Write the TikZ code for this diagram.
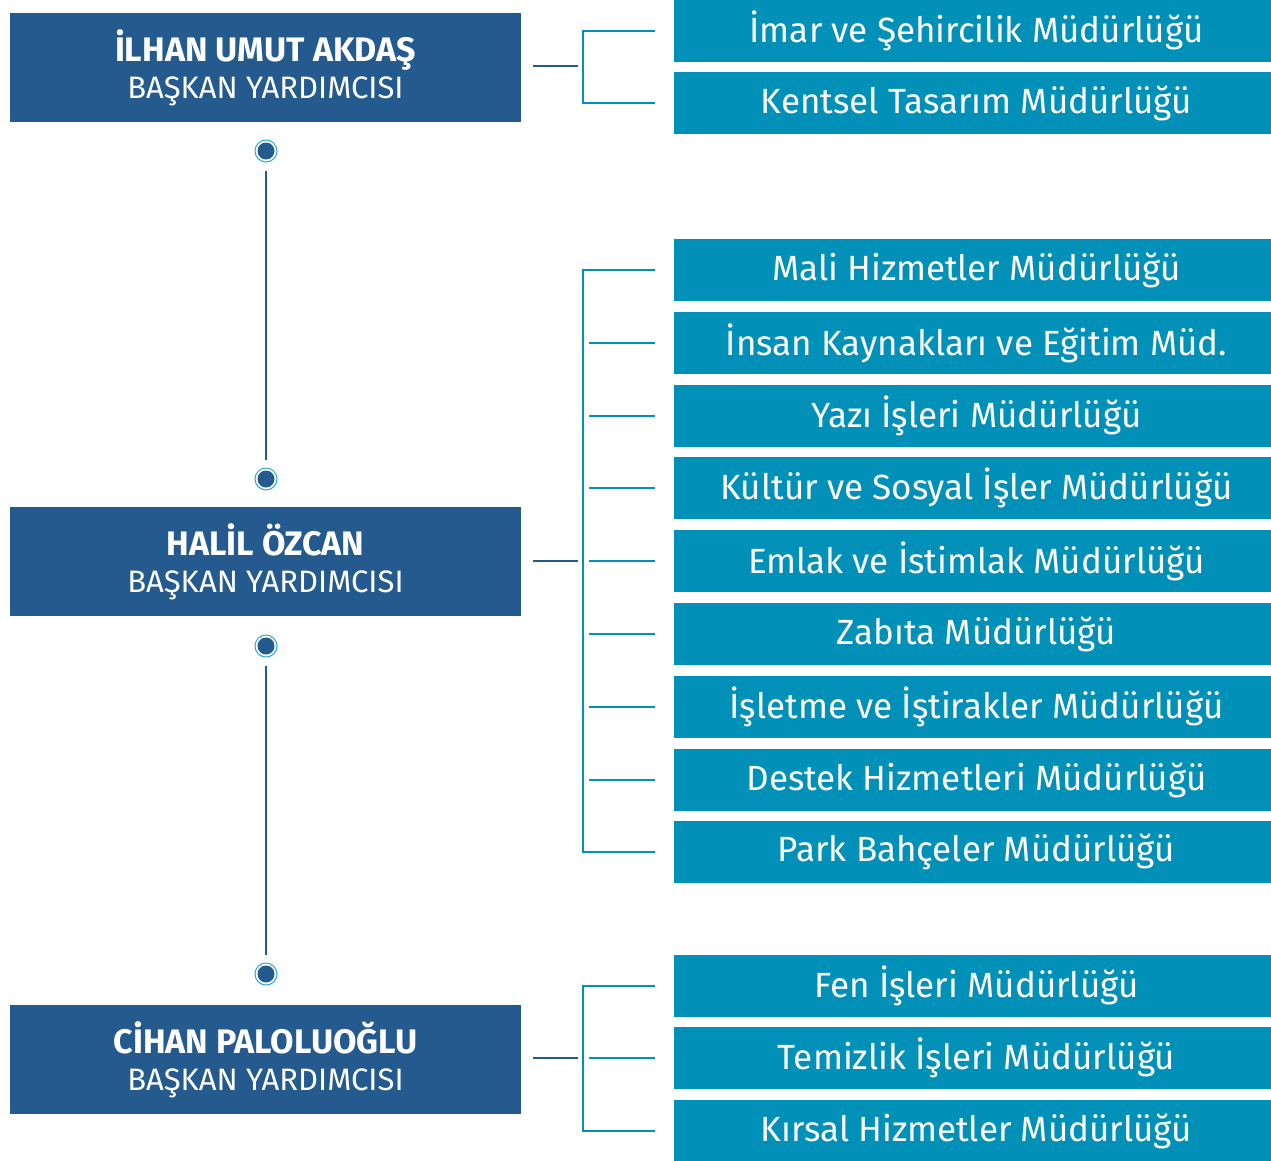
\documentclass[tikz,border=0pt]{standalone}
\usepackage{fontspec}
\setmainfont{Fira Sans}
\definecolor{vpblue}{HTML}{245A8E}
\definecolor{unitteal}{HTML}{0090B8}
\definecolor{ringteal}{HTML}{2AA9CF}
\tikzset{
  vpbox/.style={fill=vpblue, text=white, minimum width=511pt, minimum height=109pt,
    inner sep=0pt, align=center, font=\fontsize{31}{37}\selectfont},
  unitbox/.style={fill=unitteal, text=white, minimum width=597pt, minimum height=62pt,
    inner sep=0pt, font=\fontsize{35}{40}\selectfont},
  vpline/.style={vpblue, line width=2pt},
  unitline/.style={unitteal, line width=2pt},
  vpdot/.style={circle, draw=ringteal, line width=1pt, fill=white, minimum size=22pt,
    inner sep=0pt, path picture={\fill[vpblue] (path picture bounding box.center) circle (8.5pt);}}
}
\newcommand{\vpname}[1]{{\fontsize{34}{37}\selectfont\bfseries #1}}
\begin{document}
\begin{tikzpicture}[x=1pt, y=-1pt]
\useasboundingbox (0,0) rectangle (1271,1160);

\node[vpbox] (ilhan) at (265.5,67.5) {\vpname{İLHAN UMUT AKDAŞ}\\BAŞKAN YARDIMCISI};
\node[vpbox] (halil) at (265.5,561.5) {\vpname{HALİL ÖZCAN}\\BAŞKAN YARDIMCISI};
\node[vpbox] (cihan) at (265.5,1059.5) {\vpname{CİHAN PALOLUOĞLU}\\BAŞKAN YARDIMCISI};

\node[vpdot] (d1) at (266,151) {};
\node[vpdot] (d2) at (266,479) {};
\node[vpdot] (d3) at (266,646) {};
\node[vpdot] (d4) at (266,974) {};
\draw[vpline, shorten <=8pt, shorten >=8pt] (d1) -- (d2);
\draw[vpline, shorten <=8pt, shorten >=8pt] (d3) -- (d4);

\foreach \name/\y/\txt in {imar/31/{İmar ve Şehircilik Müdürlüğü},
    kentsel/103/{Kentsel Tasarım Müdürlüğü},
    mali/270/{Mali Hizmetler Müdürlüğü},
    insan/343/{İnsan Kaynakları ve Eğitim Müd.},
    yazi/416/{Yazı İşleri Müdürlüğü},
    kultur/488/{Kültür ve Sosyal İşler Müdürlüğü},
    emlak/561/{Emlak ve İstimlak Müdürlüğü},
    zabita/634/{Zabıta Müdürlüğü},
    isletme/707/{İşletme ve İştirakler Müdürlüğü},
    destek/780/{Destek Hizmetleri Müdürlüğü},
    park/852/{Park Bahçeler Müdürlüğü},
    fen/986/{Fen İşleri Müdürlüğü},
    temizlik/1058/{Temizlik İşleri Müdürlüğü},
    kirsal/1131/{Kırsal Hizmetler Müdürlüğü}}
  \node[unitbox] (\name) at (972.5,\y) {\hspace*{8pt}\txt};

\coordinate (bj1) at (578,66);
\coordinate (bj2) at (578,561);
\coordinate (bj3) at (578,1058);
\coordinate (sp) at (583,0);

\draw[vpline, shorten <=12pt] (ilhan.east |- bj1) -- (bj1);
\draw[vpline, shorten <=12pt] (halil.east |- bj2) -- (bj2);
\draw[vpline, shorten <=12pt] (cihan.east |- bj3) -- (bj3);

\draw[unitline, shorten <=19pt, shorten >=19pt] (imar.west) -- (imar.west -| sp)
  -- (kentsel.west -| sp) -- (kentsel.west);
\draw[unitline, shorten <=19pt, shorten >=19pt] (mali.west) -- (mali.west -| sp)
  -- (park.west -| sp) -- (park.west);
\foreach \name in {insan,yazi,kultur,emlak,zabita,isletme,destek}
  \draw[unitline, shorten <=6pt, shorten >=19pt] (\name.west -| sp) -- (\name.west);
\draw[unitline, shorten <=19pt, shorten >=19pt] (fen.west) -- (fen.west -| sp)
  -- (kirsal.west -| sp) -- (kirsal.west);
\draw[unitline, shorten <=6pt, shorten >=19pt] (temizlik.west -| sp) -- (temizlik.west);
\end{tikzpicture}
\end{document}
